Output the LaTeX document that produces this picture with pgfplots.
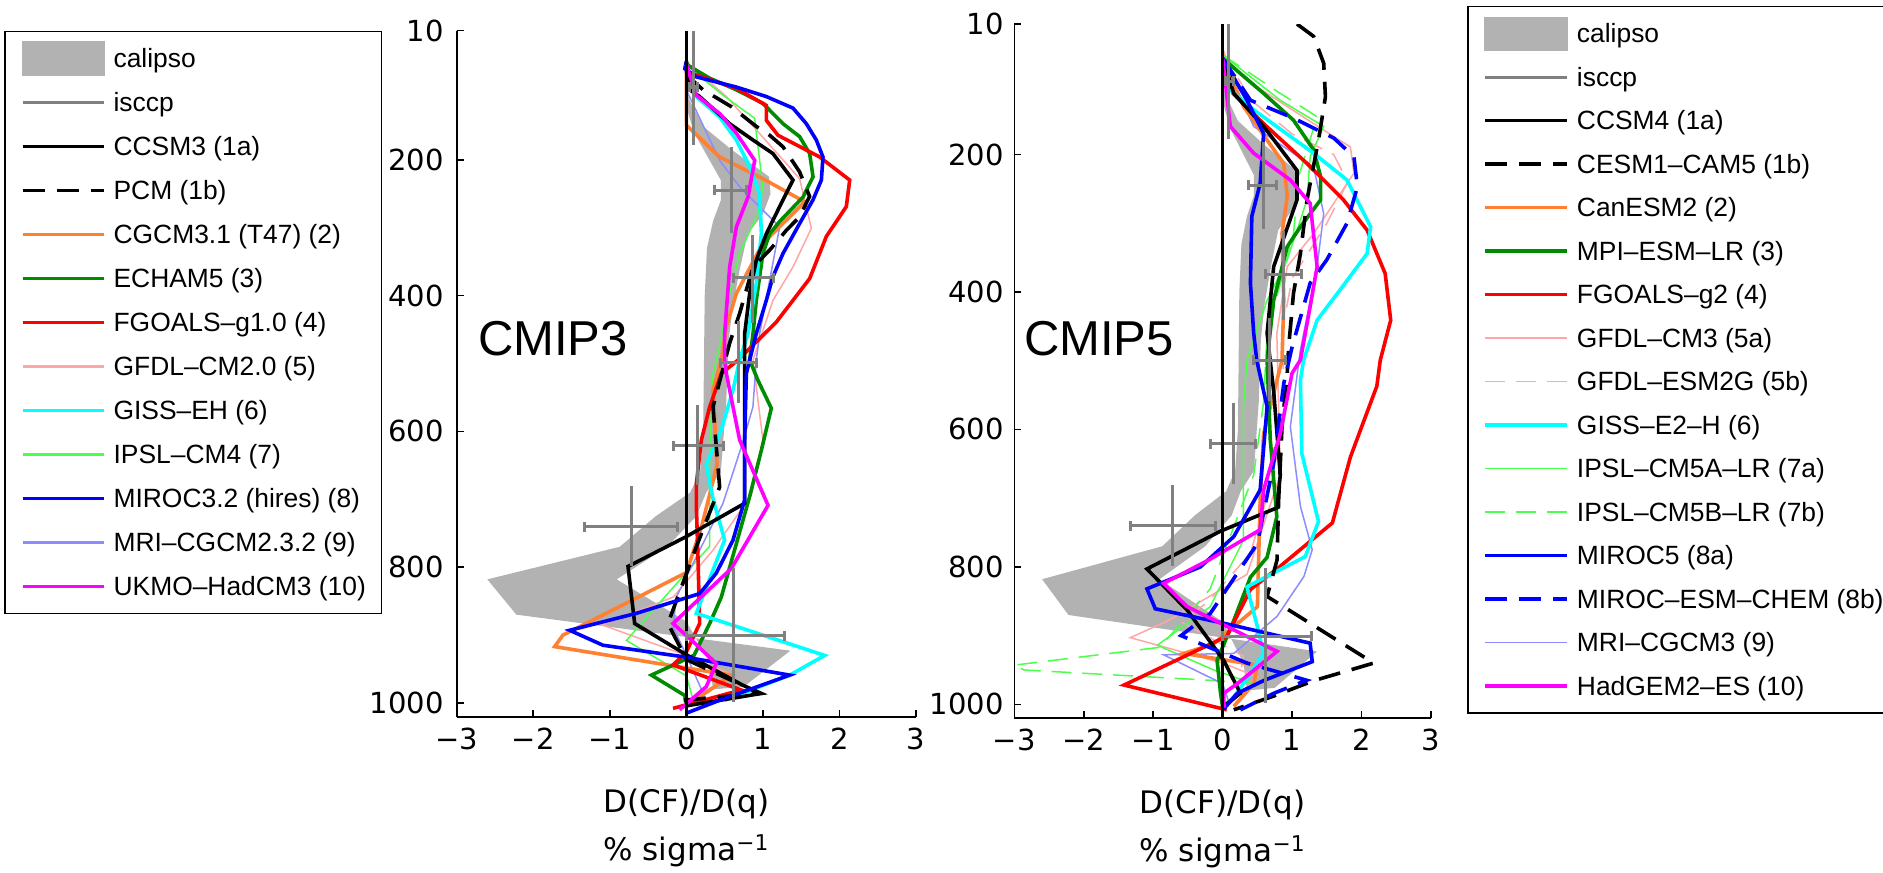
\documentclass[border=0pt]{standalone}
\usepackage{fontspec}
\setmainfont{Liberation Sans}
\newfontfamily\dejavu{DejaVu Sans}
\usepackage{pgfplots}
\pgfplotsset{compat=1.18}

\definecolor{calgray}{gray}{0.7}
\definecolor{isgray}{gray}{0.5}
\definecolor{morange}{rgb}{1,0.5,0.2}
\definecolor{mgreen}{rgb}{0,0.55,0}
\definecolor{mpink}{rgb}{1,0.65,0.65}
\definecolor{mlgreen}{rgb}{0.3,1,0.3}
\definecolor{mlblue}{rgb}{0.55,0.55,1}
\definecolor{mcyan}{rgb}{0,1,1}
\definecolor{mmag}{rgb}{1,0,1}
\definecolor{mblue}{rgb}{0,0,1}
\definecolor{mred}{rgb}{1,0,0}

\newcommand\ticfont{\dejavu\fontsize{14.5bp}{17bp}\selectfont}
\newcommand\labfont{\dejavu\fontsize{15.5bp}{24bp}\selectfont}
\newcommand\legfont{\fontsize{13.2bp}{16bp}\selectfont}
\newcommand\cmipfont{\fontsize{24.5bp}{28bp}\selectfont}

\tikzset{
  thk/.style={line width=1.8bp},
  thn/.style={line width=0.75bp},
  med/.style={line width=1.1bp},
  dsh/.style={dash pattern=on 11bp off 6bp},
  tdsh/.style={dash pattern=on 10bp off 5.4bp},
  isst/.style={isgray, line width=1.5bp},
}

\pgfplotsset{
  myaxis/.style={
    scale only axis,
    xmin=-3, xmax=3,
    ymax=-10,
    y filter/.expression={-y},
    xtick={-3,-2,-1,0,1,2,3},
    xticklabels={−3,−2,−1,0,1,2,3},
    ytick={-1000,-800,-600,-400,-200,-10},
    yticklabels={1000,800,600,400,200,10},
    axis x line*=bottom, axis y line*=left,
    tick align=inside,
    major tick length=3.4bp,
    axis line style={line width=0.8bp, black},
    every tick/.style={line width=0.8bp, black},
    tick label style={font=\ticfont, inner sep=0pt},
    xticklabel style={anchor=base, yshift=-16.25bp},
    xlabel={D(CF)/D(q)\\\% sigma\textsuperscript{−1}},
    xlabel style={font=\labfont, align=center, at={(axis description cs:0.5,0)}, anchor=north, yshift=-36bp, inner sep=0pt},
    legend cell align=left,
  },
}

% calipso band (same observations in both panels): x, pressure
\newcommand\calipso{%
\addplot[fill=calgray, draw=none, forget plot] coordinates {
(0.0,95) (0.02,130) (0.1,160) (0.3,200) (0.45,230) (0.45,260) (0.35,290) (0.27,330)
(0.24,400) (0.23,500) (0.22,600) (0.18,660) (0.05,690) (-0.4,725) (-0.87,770)
(-2.6,818) (-2.22,870) (1.36,923) (0.75,976) (0.35,980) (0.3,940) (0.0,880)
(-0.91,818) (-0.25,770) (0.13,725) (0.26,690) (0.45,660) (0.52,560) (0.55,470)
(0.6,420) (0.7,360) (0.8,310) (1.0,280) (1.1,250) (1.08,225) (0.6,186) (0.22,151) (0.04,112)
};}

% isccp crosses
\newcommand\isccp{%
\addplot[isst, mark=|, mark size=2.5bp, mark options={solid}, forget plot] coordinates {(0.035,93.5) (0.152,93.5)};
\addplot[isst, forget plot] coordinates {(0.087,10) (0.087,178)};
\addplot[isst, mark=|, mark size=2.5bp, mark options={solid}, forget plot] coordinates {(0.37,245) (0.78,245)};
\addplot[isst, forget plot] coordinates {(0.59,181) (0.59,308)};
\addplot[isst, mark=|, mark size=2.5bp, mark options={solid}, forget plot] coordinates {(0.61,374) (1.14,374)};
\addplot[isst, forget plot] coordinates {(0.87,311) (0.87,441)};
\addplot[isst, mark=|, mark size=2.5bp, mark options={solid}, forget plot] coordinates {(0.44,499) (0.91,499)};
\addplot[isst, forget plot] coordinates {(0.675,438) (0.675,559)};
\addplot[isst, mark=|, mark size=2.5bp, mark options={solid}, forget plot] coordinates {(-0.17,621) (0.48,621)};
\addplot[isst, forget plot] coordinates {(0.15,561) (0.15,679)};
\addplot[isst, mark=|, mark size=2.5bp, mark options={solid}, forget plot] coordinates {(-1.33,740.5) (-0.11,740.5)};
\addplot[isst, forget plot] coordinates {(-0.72,681) (-0.72,799)};
\addplot[isst, mark=|, mark size=2.5bp, mark options={solid}, forget plot] coordinates {(0.0,901) (1.28,901)};
\addplot[isst, forget plot] coordinates {(0.61,801) (0.61,998)};
}

\newcommand\zeroline{%
\addplot[black, line width=1.6bp, forget plot] coordinates {(0,10) (0,1020)};}

\begin{document}
\begin{tikzpicture}

%================= CMIP3 =================
\begin{axis}[myaxis,
  at={(228.35bp,-358.5bp)}, anchor=south west,
  width=229.65bp, height=343.15bp, ymin=-1020.7,
  yticklabel style={anchor=east, xshift=-6.35bp},
  legend style={at={(-0.985,0.9996)}, anchor=north west, draw=black, line width=0.7bp,
    inner xsep=7.85bp, inner ysep=2.4bp, font=\legfont, row sep=0pt, column sep=3.8bp,
    nodes={inner sep=0pt, text height=15.65bp, text depth=6.35bp}},
  legend image code/.code={\draw[#1] (0bp,0bp) -- (40.85bp,0bp);},
]
\addlegendimage{legend image code/.code={\fill[calgray] (0bp,-8.5bp) rectangle (40.85bp,8.5bp);}}
\addlegendentry{calipso}
\addlegendimage{isst}\addlegendentry{isccp}
\addlegendimage{black, thk}\addlegendentry{CCSM3 (1a)}
\addlegendimage{black, thk, dsh}\addlegendentry{PCM (1b)}
\addlegendimage{morange, thk}\addlegendentry{CGCM3.1 (T47) (2)}
\addlegendimage{mgreen, thk}\addlegendentry{ECHAM5 (3)}
\addlegendimage{mred, thk}\addlegendentry{FGOALS–g1.0 (4)}
\addlegendimage{mpink, med}\addlegendentry{GFDL–CM2.0 (5)}
\addlegendimage{mcyan, thk}\addlegendentry{GISS–EH (6)}
\addlegendimage{mlgreen, med}\addlegendentry{IPSL–CM4 (7)}
\addlegendimage{mblue, thk}\addlegendentry{MIROC3.2 (hires) (8)}
\addlegendimage{mlblue, med}\addlegendentry{MRI–CGCM2.3.2 (9)}
\addlegendimage{mmag, thk}\addlegendentry{UKMO–HadCM3 (10)}

\calipso

% GFDL-CM2.0
\addplot[mpink, thn, forget plot] coordinates {(0,55) (0.02,58) (0.523,107) (0.914,156) (1.48,228) (1.633,301) (1.393,358) (1.132,407) (0.871,495) (1.0,613) (0.849,694) (0.348,775) (-0.17,844) (-1.1,885) (0.0,930) (0.61,959) (0.2,985) (0,1000)};
% IPSL-CM4
\addplot[mlgreen, thn, forget plot] coordinates {(0,55) (0.0,61) (0.479,105) (0.893,139) (0.914,161) (1.0,240) (0.936,279) (0.697,338) (0.566,397) (0.435,475) (0.348,515) (0.305,638) (0.305,769) (-0.784,908) (0.0,960) (0.1,1000)};
% MRI-CGCM2.3.2
\addplot[mlblue, thn, forget plot] coordinates {(0,60) (0.02,102) (0.435,201) (0.697,240) (1.219,299) (1.089,377) (0.958,456) (0.914,495) (0.87,564) (0.718,623) (0.479,706) (-0.13,844) (-0.174,888) (0.0,930) (0.26,996)};
% CGCM3.1
\addplot[morange, thk, forget plot] coordinates {(0,60) (0.0,149) (0.435,196) (1.0,228) (1.546,262) (1.306,289) (1.0,323) (0.653,397) (0.523,446) (0.457,495) (0.348,539) (0.4,650) (0.2,740) (0.0,808) (-1.045,868) (-1.611,900) (-1.72,917) (-0.2,945) (0.588,959) (0.087,998)};
% ECHAM5
\addplot[mgreen, thk, forget plot] coordinates {(0.0,55) (0.02,61) (0.305,80) (0.653,97) (1.0,117) (1.263,147) (1.48,166) (1.611,191) (1.655,225) (1.524,255) (1.219,291) (1.089,309) (1.0,338) (0.914,407) (0.871,456) (0.827,495) (0.936,525) (1.11,566) (0.98,628) (0.827,696) (0.457,844) (0.305,883) (0.1,930) (-0.457,959) (-0.02,989) (0.0,1005)};
% FGOALS-g1.0
\addplot[mred, thk, forget plot] coordinates {(0,55) (0,70) (0.653,95) (1.045,120) (1.045,142) (1.197,164) (1.742,196) (2.134,230) (2.09,269) (1.829,313) (1.611,375) (1.176,439) (0.675,495) (0.457,515) (0.305,564) (0.196,613) (0.131,677) (0.131,711) (0.152,785) (0.174,883) (0.0,925) (-0.174,944) (0.718,981) (-0.174,1008)};
% GISS-EH
\addplot[mcyan, thk, forget plot] coordinates {(0,60) (0.13,107) (0.435,137) (0.653,171) (0.827,210) (0.958,250) (0.98,309) (0.914,382) (0.806,456) (0.697,495) (0.61,539) (0.45,600) (0.26,649) (0.35,700) (0.5,760) (0.13,868) (1.807,930) (1.35,959) (0.5,996)};
% PCM
\addplot[black, thk, dsh, forget plot] coordinates {(0.0,75) (0.218,97) (0.588,122) (0.914,151) (1.089,164) (1.263,181) (1.48,218) (1.61,254) (1.48,284) (1.306,304) (1.089,333) (0.87,358) (0.697,426) (0.566,470) (0.348,564) (0.435,682) (0.13,770) (-0.24,883) (0.0,936) (0.958,986) (-0.04,996)};
% CCSM3
\addplot[black, thk, forget plot] coordinates {(0.0,60) (0.044,97) (0.174,107) (0.566,147) (0.871,171) (1.132,191) (1.393,230) (1.263,259) (1.045,309) (0.914,348) (0.827,397) (0.762,456) (0.762,495) (0.762,600) (0.762,706) (0.0,755) (-0.762,799) (-0.675,883) (0.0,929) (0.74,974) (0.98,986) (-0.04,1005)};
% MIROC3.2 (hires)
\addplot[mblue, thk, forget plot] coordinates {(0,55) (-0.02,66) (0.13,78) (0.653,93) (1.045,107) (1.393,124) (1.568,147) (1.698,171) (1.785,196) (1.764,230) (1.655,259) (1.48,294) (1.263,338) (1.132,372) (1.045,407) (0.914,456) (0.827,495) (0.784,515) (0.762,613) (0.762,701) (0.61,760) (0.39,809) (0.174,839) (-0.653,868) (-1.524,893) (-1.089,915) (-0.04,932) (1.35,959) (0.435,996) (0.0,1015)};
% UKMO-HadCM3
\addplot[mmag, thk, forget plot] coordinates {(0,60) (0.13,105) (0.435,132) (0.653,161) (0.893,201) (0.806,255) (0.653,299) (0.566,358) (0.5,456) (0.5,495) (0.523,515) (0.697,613) (1.067,709) (0.588,802) (-0.174,883) (0.044,905) (0.392,942) (0.26,976) (-0.087,1010)};

\isccp
\zeroline
\node[font=\cmipfont, inner sep=0pt] at (rel axis cs:0.2097,0.5508) {CMIP3};
\end{axis}

%================= CMIP5 =================
\begin{axis}[myaxis,
  at={(507.15bp,-358.85bp)}, anchor=south west,
  width=208.35bp, height=346.85bp, ymin=-1019.5,
  yticklabel style={anchor=east, xshift=-5.15bp},
  legend style={at={(1.0871,1.026)}, anchor=north west, draw=black, line width=0.7bp,
    inner xsep=2bp, inner ysep=2.6bp, font=\legfont, row sep=0pt, column sep=3.85bp,
    nodes={inner sep=0pt, text height=15.4bp, text depth=6.35bp}},
  legend image code/.code={\path (-5.7bp,0bp); \draw[#1] (0bp,0bp) -- (41.15bp,0bp);},
]
\addlegendimage{legend image code/.code={\path (-5.7bp,0bp); \fill[calgray] (0bp,-8.15bp) rectangle (41.15bp,8.15bp);}}
\addlegendentry{calipso}
\addlegendimage{isst}\addlegendentry{isccp}
\addlegendimage{black, thk}\addlegendentry{CCSM4 (1a)}
\addlegendimage{black, thk, dsh}\addlegendentry{CESM1–CAM5 (1b)}
\addlegendimage{morange, thk}\addlegendentry{CanESM2 (2)}
\addlegendimage{mgreen, thk}\addlegendentry{MPI–ESM–LR (3)}
\addlegendimage{mred, thk}\addlegendentry{FGOALS–g2 (4)}
\addlegendimage{mpink, thn}\addlegendentry{GFDL–CM3 (5a)}
\addlegendimage{mpink, thn, tdsh}\addlegendentry{GFDL–ESM2G (5b)}
\addlegendimage{mcyan, thk}\addlegendentry{GISS–E2–H (6)}
\addlegendimage{mlgreen, thn}\addlegendentry{IPSL–CM5A–LR (7a)}
\addlegendimage{mlgreen, thn, tdsh}\addlegendentry{IPSL–CM5B–LR (7b)}
\addlegendimage{mblue, thk}\addlegendentry{MIROC5 (8a)}
\addlegendimage{mblue, thk, dsh}\addlegendentry{MIROC–ESM–CHEM (8b)}
\addlegendimage{mlblue, thn}\addlegendentry{MRI–CGCM3 (9)}
\addlegendimage{mmag, thk}\addlegendentry{HadGEM2–ES (10)}

\calipso

% GFDL-CM3
\addplot[mpink, thn, forget plot] coordinates {(0,45) (0.05,60) (0.35,92) (1.31,155) (1.84,189) (1.89,227) (1.31,315) (0.93,363) (0.78,460) (0.83,666) (0.35,811) (-0.8,879) (-1.33,903) (0.0,940) (0.5,960) (0.1,1000)};
% GFDL-ESM2G
\addplot[mpink, thn, tdsh, forget plot] coordinates {(0,50) (0.4,120) (1.0,170) (1.6,200) (1.8,240) (1.5,300) (1.0,380) (0.85,460) (0.9,560) (0.75,660) (0.4,780) (-0.2,850) (-0.6,880) (0.3,930) (0.2,990)};
% IPSL-CM5A-LR
\addplot[mlgreen, thn, forget plot] coordinates {(0,55) (0.83,121) (1.455,159) (1.26,203) (1.215,266) (0.93,353) (0.64,412) (0.35,499) (0.3,567) (0.3,761) (-0.18,858) (-0.94,914) (-0.13,950) (0.447,970) (0.0,1000)};
% IPSL-CM5B-LR
\addplot[mlgreen, thn, tdsh, forget plot] coordinates {(0,55) (0.83,111) (1.02,123) (1.36,145) (1.1,230) (1.02,315) (0.64,460) (0.59,560) (0.447,666) (-0.18,832) (-0.9,917) (-3.0,943) (-2.86,950) (-0.18,965) (0.447,970) (0.0,1000)};
% MRI-CGCM3
\addplot[mlblue, thn, forget plot] coordinates {(0,60) (0.447,159) (1.31,218) (1.455,286) (1.36,363) (1.12,484) (0.975,596) (1.12,712) (1.29,775) (1.17,814) (0.783,872) (0.16,926) (-0.85,928) (0.0,970) (0.1,1000)};
% CanESM2
\addplot[morange, thk, forget plot] coordinates {(0,60) (0.3,130) (0.64,179) (0.88,213) (0.93,261) (0.855,315) (0.88,412) (0.855,499) (0.59,606) (0.54,703) (0.5,858) (-0.13,912) (-0.56,926) (0.5,943) (0.45,970) (0.16,1003)};
% MPI-ESM-LR
\addplot[mgreen, thk, forget plot] coordinates {(0,60) (0.59,111) (1.02,150) (1.31,193) (1.41,232) (1.41,266) (1.12,305) (0.93,334) (0.735,412) (0.64,499) (0.686,615) (0.78,727) (0.64,786) (0.4,815) (0.16,878) (-0.08,936) (-0.03,984) (0,1005)};
% FGOALS-g2
\addplot[mred, thk, forget plot] coordinates {(0,60) (0.15,111) (0.59,155) (1.215,213) (1.74,266) (2.08,310) (2.34,373) (2.42,441) (2.27,499) (2.22,537) (1.84,640) (1.58,736) (0.83,799) (0.4,833) (0.06,901) (-1.42,972) (0.06,1008)};
% GISS-E2-H
\addplot[mcyan, thk, forget plot] coordinates {(0,60) (0.11,106) (0.447,135) (1.31,198) (1.79,237) (2.13,305) (2.08,344) (1.69,397) (1.36,441) (1.166,499) (1.12,528) (1.14,635) (1.38,734) (1.19,785) (0.35,829) (0.5,887) (0.59,926) (0.21,983) (0.02,1005)};
% CESM1-CAM5
\addplot[black, thk, dsh, forget plot] coordinates {(1.07,10) (1.31,28) (1.455,67) (1.48,116) (1.38,179) (1.215,266) (1.12,344) (1.02,402) (0.95,480) (0.93,518) (0.855,596) (0.806,703) (0.783,790) (0.64,843) (2.175,940) (1.3,966) (0.735,988) (0.16,1008)};
% CCSM4
\addplot[black, thk, forget plot] coordinates {(0,60) (0.16,111) (0.59,159) (1.07,223) (1.07,266) (0.735,363) (0.64,460) (0.735,545) (0.83,666) (0.783,714) (-0.03,748) (-1.09,803) (-0.51,863) (0.015,936) (0.255,984) (0.015,1003)};
% MIROC5
\addplot[mblue, thk, forget plot] coordinates {(0,60) (0.35,121) (0.59,169) (0.54,242) (0.42,290) (0.4,387) (0.447,460) (0.49,499) (0.64,567) (0.54,688) (0.16,756) (-0.32,800) (-1.09,832) (-0.97,861) (0.015,882) (1.26,911) (1.29,938) (0.6,965) (0.21,984) (0.015,1007)};
% MIROC-ESM-CHEM
\addplot[mblue, thk, dsh, forget plot] coordinates {(0,60) (0.4,121) (1.02,147) (1.6,176) (1.89,203) (1.94,247) (1.79,300) (1.5,353) (1.26,387) (1.0,480) (0.88,533) (0.735,649) (0.5,766) (-0.18,868) (-0.6,900) (0.35,940) (1.21,965) (0.735,984) (0.255,1008)};
% HadGEM2-ES
\addplot[mmag, thk, forget plot] coordinates {(0,60) (0.11,159) (0.447,198) (0.975,237) (1.26,271) (1.36,363) (1.26,421) (1.12,499) (1.0,518) (0.83,606) (0.59,688) (0.54,746) (-0.2,790) (-0.85,824) (-0.51,858) (0.783,923) (0.21,970) (0.015,984) (0.02,1005)};

\isccp
\zeroline
\node[font=\cmipfont, inner sep=0pt] at (rel axis cs:0.2033,0.547) {CMIP5};
\end{axis}

\pgfresetboundingbox
\useasboundingbox (0bp,0bp) rectangle (941.5bp,-436.5bp);
\end{tikzpicture}
\end{document}
